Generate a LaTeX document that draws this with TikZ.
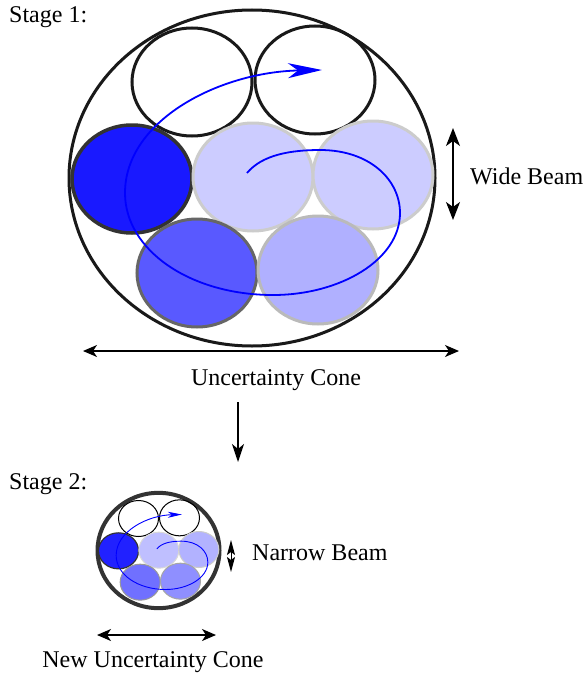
\documentclass[tikz,border=0pt]{standalone}
\usepackage{fontspec}
\setmainfont{Liberation Serif}
\usetikzlibrary{arrows.meta,positioning}

\tikzset{
  caption/.style={font=\fontsize{24}{28}\selectfont,inner sep=0pt},
  span arrow/.style={line width=1.4pt,
    {Stealth[length=14pt,width=12pt,inset=4pt]}-{Stealth[length=14pt,width=12pt,inset=4pt]}},
  sweep path/.style={insert path={(-5,-5) .. controls (10,-23) and (38,-28) .. (68,-28)
    .. controls (118,-28) and (148,2) .. (148,35)
    .. controls (148,82) and (88,117) .. (21,117)
    .. controls (-62,117) and (-127,72) .. (-127,15)
    .. controls (-127,-58) and (-32,-106) .. (70,-108)}}
}

\begin{document}
\begin{tikzpicture}[x=1pt,y=-1pt]
  \useasboundingbox[fill=white] (0,0) rectangle (584,677);

  % stage 1: wide beam
  \node[caption,anchor=west] (stage1) at (9,17) {Stage 1:};
  \begin{scope}[shift={(252,178)}]
    \draw[line width=3pt,black!90] (0,0) ellipse (183 and 168);
    \draw[line width=3pt,black!90] (-60,-96) ellipse (60 and 54);
    \draw[line width=3pt,black!90] (63,-98) ellipse (60 and 54);
    \draw[line width=3.5pt,black!80,fill=blue!90] (-120,1) ellipse (60 and 54);
    \draw[line width=3pt,black!20,fill=blue!20] (1,-1) ellipse (60 and 54);
    \draw[line width=3pt,black!20,fill=blue!20] (121,-3) ellipse (60 and 54);
    \draw[line width=3pt,black!60,fill=blue!65] (-55,95) ellipse (60 and 54);
    \draw[line width=3pt,black!27,fill=blue!31] (66,92) ellipse (60 and 54);
    \draw[blue,line width=1.8pt,-{Stealth[length=34pt,width=15pt,inset=10pt]},sweep path];
  \end{scope}
  \coordinate (wide top) at (453,128);
  \coordinate (wide bot) at (453,220);
  \draw[line width=1.4pt,{Stealth[length=18pt,width=14pt,inset=5pt]}-{Stealth[length=18pt,width=14pt,inset=5pt]}]
    (wide top) -- (wide bot);
  \node[caption,anchor=west] (wide) at (470,176) {Wide Beam};
  \coordinate (cone left) at (83,351);
  \coordinate (cone right) at (459,351);
  \draw[span arrow] (cone left) -- (cone right);
  \node[caption] (cone) at (276,380) {Uncertainty Cone};
  \coordinate (next) at (238,462);
  \draw[line width=1.4pt,-{Stealth[length=18pt,width=12pt,inset=5pt]}] (238,402) -- (next);

  % stage 2: narrow beam
  \node[caption,anchor=west] (stage2) at (9,484) {Stage 2:};
  \begin{scope}[shift={(158.5,550.5)},scale=1/3]
    \draw[line width=4pt,black!80] (0,0) ellipse (183 and 173);
    \draw[line width=1pt] (-60,-96) ellipse (60 and 54);
    \draw[line width=1pt] (63,-98) ellipse (60 and 54);
    \draw[line width=1.2pt,black!80,fill=blue!87] (-120,1) ellipse (60 and 54);
    \draw[line width=1pt,black!15,fill=blue!25] (1,-1) ellipse (60 and 54);
    \draw[line width=1pt,black!20,fill=blue!30] (121,-3) ellipse (60 and 54);
    \draw[line width=1pt,black!40,fill=blue!56] (-55,95) ellipse (60 and 54);
    \draw[line width=1pt,black!35,fill=blue!44] (66,92) ellipse (60 and 54);
    \draw[blue,line width=0.9pt,-{Stealth[length=14pt,width=6pt,inset=4pt]},sweep path];
  \end{scope}
  \coordinate (narrow top) at (231,540);
  \coordinate (narrow bot) at (231,572);
  \draw[line width=1pt,{Stealth[length=15pt,width=8pt,inset=3pt]}-{Stealth[length=15pt,width=8pt,inset=3pt]}]
    (narrow top) -- (narrow bot);
  \node[caption,anchor=west] (narrow) at (252,553) {Narrow Beam};
  \coordinate (new left) at (97,635);
  \coordinate (new right) at (216,635);
  \draw[span arrow] (new left) -- (new right);
  \node[caption] (newcone) at (153,662) {New Uncertainty Cone};
\end{tikzpicture}
\end{document}
